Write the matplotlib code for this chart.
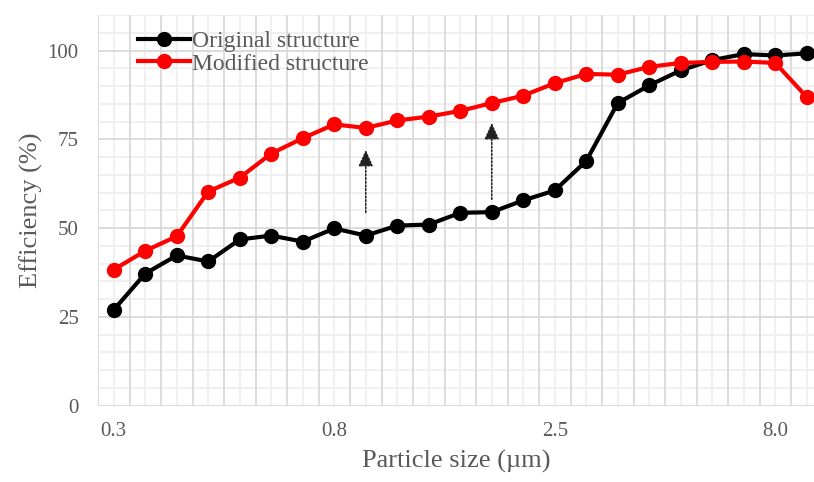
import matplotlib.pyplot as plt
import numpy as np

plt.rcParams['font.family'] = ['Liberation Serif', 'DejaVu Serif']

# efficiency (%) for each particle size class
original = [27.0, 37.2, 42.3, 40.6, 46.8, 47.9, 46.2, 49.9, 47.9, 50.7, 51.0, 54.3,
            54.5, 57.8, 60.6, 68.9, 85.2, 90.2, 94.4, 97.3, 99.0, 98.6, 99.2]
modified = [38.3, 43.6, 47.7, 60.3, 64.2, 71.0, 75.3, 79.2, 78.2, 80.3, 81.4, 83.0,
            85.2, 87.3, 90.8, 93.4, 93.2, 95.4, 96.5, 96.8, 96.9, 96.5, 86.9]
tick_labels = ['0.3', '0.8', '2.5', '8.0']
tick_index = [0, 7, 14, 21]
# dotted arrows: (category index, start, end)
arrows = [(8, 53.6, 72.8), (12, 57.3, 80.4)]

x = np.arange(len(original))
grey = '#595959'

fig = plt.figure(figsize=(8.14, 4.82), dpi=100)
ax = fig.add_axes([0.1204, 0.1583, 0.8796, 0.8106])

ax.plot(x, original, '-o', color='black', linewidth=3, markersize=10, label='Original structure', zorder=3)
ax.plot(x, modified, '-o', color='#ff0000', linewidth=3, markersize=10, label='Modified structure', zorder=4)

for xi, y0, y1 in arrows:
    ax.annotate('', xy=(xi, y1), xytext=(xi, y0),
                arrowprops=dict(arrowstyle='-|>,head_width=0.45,head_length=1.0',
                                color='#222222', linestyle=(0, (1.2, 1.2)), linewidth=1.1))

ax.set_xlim(-0.5, 22.23)
ax.set_ylim(0, 110)
ax.set_xticks(tick_index)
ax.set_xticklabels(tick_labels)
ax.set_yticks([0, 25, 50, 75, 100])

# major grid on category boundaries, light grid through category centres
for xb in np.arange(-0.5, 23, 1):
    ax.axvline(xb, color='#d9d9d9', linewidth=1.3, zorder=1)
for xc in x:
    ax.axvline(xc, color='#efefef', linewidth=1.3, zorder=0.5)
for yv in np.arange(0, 111, 5):
    if yv % 25 == 0:
        ax.axhline(yv, color='#d9d9d9', linewidth=1.3, zorder=1)
    else:
        ax.axhline(yv, color='#efefef', linewidth=1.3, zorder=0.5)

for s in ax.spines.values():
    s.set_visible(False)
ax.tick_params(which='both', length=0, colors=grey, labelsize=15)
ax.tick_params(axis='x', pad=12)
ax.tick_params(axis='y', pad=14)

ax.set_xlabel('Particle size (µm)', fontsize=19, color=grey, labelpad=6)
ax.set_ylabel('Efficiency (%)', fontsize=19, color=grey, labelpad=3)

ax.legend(loc='upper left', bbox_to_anchor=(0.034, 1.0), frameon=False, fontsize=17,
          handlelength=2.2, handletextpad=0.1, labelspacing=0.05, borderaxespad=0.25,
          labelcolor=grey)

plt.savefig('out.png', dpi=100)
